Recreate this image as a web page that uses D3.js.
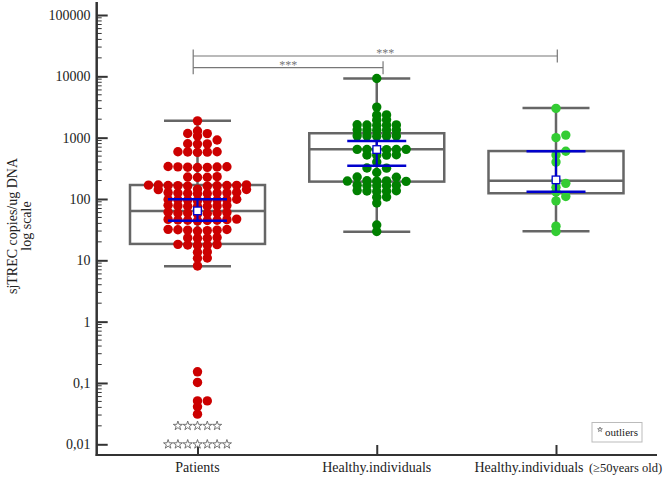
<!DOCTYPE html>
<html>
<head>
<meta charset="utf-8">
<script src="https://cdn.jsdelivr.net/npm/d3@7"></script>
<style>
  html, body { margin: 0; padding: 0; background: #fff; }
  svg { display: block; font-family: "Liberation Serif", "DejaVu Serif", serif; }
</style>
</head>
<body>
<svg id="chart" width="667" height="479"></svg>
<script>
// ---------------- DATA ----------------
const categories = ["Patients", "Healthy", "Healthy50"];
const categoryLabels = ["Patients", "Healthy.individuals", "Healthy.individuals"];
const categoryNote = "(≥50years old)";

const patientValues = [1880, 1285, 1170, 1165, 1065, 915, 790, 785, 795, 585, 580, 590, 575, 588,
  332, 335, 330, 328, 338, 334, 326, 228, 226, 231, 225,
  166, 164, 168, 165, 167, 163, 169, 166, 162, 170, 143, 142, 145,
  125, 124, 127, 123, 126, 125, 128, 122, 96, 97, 95, 98, 96, 94, 99, 97,
  77, 76, 78, 77, 75, 79, 76, 59, 60, 58, 59, 61, 57, 59,
  45.5, 45, 46, 44.5, 46.5, 45, 44, 47, 31, 31.5, 30.5, 32, 30, 31, 31.8,
  23, 23.5, 22.8, 23.2, 17.8, 18, 17.6, 18.2, 17.5, 13.7, 13.5, 10.9, 10.8, 8.1,
  0.152, 0.102, 0.051, 0.051, 0.041, 0.031];
const healthyValues = [9200, 3150, 2350, 2330, 1950, 1930, 1610, 1600, 1620, 1590, 1615,
  1335, 1330, 1340, 1325, 1338, 1065, 1060, 1070, 1055, 1068,
  640, 645, 635, 642, 638, 644, 522, 518, 526, 520, 400, 320, 318, 270, 228, 226,
  196, 195, 198, 194, 197, 166, 165, 167, 164, 168, 135, 134, 136, 133, 137, 108, 107, 86, 37.7, 29.5];
const healthy50Values = [3000, 1100, 1000, 600, 520, 400, 200, 180, 155, 130, 110, 93, 36, 29.5];

const outlierLevels = [0.02, 0.01];
const outlierCounts = [5, 7];

const boxQ1 = [18.5, 192, 124];
const boxMedian = [63.7, 650, 199];
const boxQ3 = [169, 1180, 605];
const whiskerLow = [8.0, 29.3, 29.9];
const whiskerHigh = [1880, 9200, 3050];
const ciLow = [44, 349, 131];
const ciHigh = [99, 883, 600];
const centerMark = [64, 640, 205];

const yTickValues = [100000, 10000, 1000, 100, 10, 1, 0.1, 0.01];
const yTickLabels = ["100000", "10000", "1000", "100", "10", "1", "0,1", "0,01"];

const sigPairs = [["Patients", "Healthy50"], ["Patients", "Healthy"]];
const sigLabels = ["***", "***"];

const dotColors = ["#cc0000", "#008000", "#33cc33"];

// ---------------- SCALES ----------------
const svg = d3.select("#chart");
const y = d3.scaleLog().domain([0.01, 100000]).range([444.3, 15]);
const x = d3.scalePoint().domain(categories).range([197.5, 556]);

const axisColor = "#333";
const boxColor = "#666";
const blue = "#0000cc";

// ---------------- AXES ----------------
const yAxisX = 96.7;
const xAxisY = 455;

svg.append("line").attr("x1", yAxisX).attr("x2", yAxisX).attr("y1", 2).attr("y2", xAxisY + 1)
  .attr("stroke", axisColor).attr("stroke-width", 2.5);

const yAxis = d3.axisRight(y).tickValues(yTickValues).tickSize(11).tickFormat("");
const gY = svg.append("g").attr("transform", `translate(${yAxisX},0)`).call(yAxis);
gY.select(".domain").remove();
gY.selectAll(".tick line").attr("stroke", axisColor).attr("stroke-width", 2);

const minor = [];
for (let e = -2; e < 5; e++) for (let m = 2; m <= 9; m++) minor.push(m * Math.pow(10, e));
svg.append("g").selectAll("line").data(minor).join("line")
  .attr("x1", yAxisX).attr("x2", yAxisX + 5)
  .attr("y1", d => y(d)).attr("y2", d => y(d))
  .attr("stroke", axisColor).attr("stroke-width", 1);

svg.append("g").selectAll("text").data(yTickValues).join("text")
  .attr("x", 90.5).attr("y", d => y(d)).attr("dy", "0.35em")
  .attr("text-anchor", "end").attr("font-size", 14).attr("fill", "#222")
  .text((d, i) => yTickLabels[i]);

const yl = svg.append("text").attr("transform", "translate(12.5,226) rotate(-90)")
  .attr("text-anchor", "middle").attr("font-size", 14).attr("fill", "#222");
yl.append("tspan").attr("x", 0).attr("dy", "0.35em").text("sjTREC copies/ug DNA");
yl.append("tspan").attr("x", 0).attr("dy", "1.0em").text("log scale");

svg.append("line").attr("x1", yAxisX - 1).attr("x2", 657).attr("y1", xAxisY).attr("y2", xAxisY)
  .attr("stroke", axisColor).attr("stroke-width", 2.2);
const xAxis = d3.axisTop(x).tickSize(10).tickFormat("");
const gX = svg.append("g").attr("transform", `translate(0,${xAxisY})`).call(xAxis);
gX.select(".domain").remove();
gX.selectAll(".tick line").attr("stroke", axisColor).attr("stroke-width", 2);

// x labels (third label sits left of its tick to leave room for the note)
const labelShift = [0, 0, -27];
svg.append("g").selectAll("text").data(categories).join("text")
  .attr("x", (d, i) => x(d) + labelShift[i]).attr("y", 472)
  .attr("text-anchor", "middle").attr("font-size", 14).attr("fill", "#222")
  .text((d, i) => categoryLabels[i]);
svg.append("text").attr("x", 589).attr("y", 472)
  .attr("font-size", 12.5).attr("fill", "#222").text(categoryNote);

// ---------------- BOXES ----------------
const boxHalf = 67.5, capHalf = 33.5;
const gBox = svg.append("g");
categories.forEach((c, i) => {
  const cx = x(c);
  gBox.append("line").attr("x1", cx).attr("x2", cx).attr("y1", y(whiskerHigh[i])).attr("y2", y(whiskerLow[i]))
    .attr("stroke", boxColor).attr("stroke-width", 2.5);
  [whiskerHigh[i], whiskerLow[i]].forEach(v => {
    gBox.append("line").attr("x1", cx - capHalf).attr("x2", cx + capHalf).attr("y1", y(v)).attr("y2", y(v))
      .attr("stroke", boxColor).attr("stroke-width", 2.5);
  });
  gBox.append("rect").attr("x", cx - boxHalf).attr("width", 2 * boxHalf)
    .attr("y", y(boxQ3[i])).attr("height", y(boxQ1[i]) - y(boxQ3[i]))
    .attr("fill", "none").attr("stroke", boxColor).attr("stroke-width", 2.5);
  gBox.append("line").attr("x1", cx - boxHalf).attr("x2", cx + boxHalf).attr("y1", y(boxMedian[i])).attr("y2", y(boxMedian[i]))
    .attr("stroke", boxColor).attr("stroke-width", 2.5);
});

// ---------------- SWARM ----------------
const dotR = 4.7, spacing = 9.8, dyMin = 4.6;
function swarm(values, cx) {
  const pts = values.map(v => ({ v, y: y(v) })).sort((a, b) => b.y - a.y);
  const placed = [];
  pts.forEach(p => {
    const near = placed.filter(q => Math.abs(q.y - p.y) < dyMin);
    const cands = [0];
    near.forEach(q => { cands.push(q.dx + spacing, q.dx - spacing); });
    let best = null;
    cands.forEach(c => {
      const ok = near.every(q => Math.abs(q.dx - c) >= spacing - 1e-6);
      if (ok && (best === null || Math.abs(c) < Math.abs(best) - 1e-6 ||
        (Math.abs(Math.abs(c) - Math.abs(best)) < 1e-6 && c > best && near.length % 2 === 1))) best = c;
    });
    p.dx = best;
    placed.push(p);
  });
  return placed.map(p => ({ v: p.v, x: cx + p.dx, y: p.y }));
}
const groups = [patientValues, healthyValues, healthy50Values];
groups.forEach((vals, i) => {
  const pts = swarm(vals, x(categories[i]));
  svg.append("g").selectAll("circle").data(pts).join("circle")
    .attr("cx", d => d.x).attr("cy", d => d.y).attr("r", dotR)
    .attr("fill", dotColors[i]);
});

const star = d3.symbol().type(d3.symbolStar).size(26);
const gStar = svg.append("g");
outlierLevels.forEach((lv, k) => {
  const n = outlierCounts[k];
  for (let j = 0; j < n; j++) {
    const sx = x("Patients") + (j - (n - 1) / 2) * spacing;
    gStar.append("path").attr("d", star()).attr("transform", `translate(${sx},${y(lv)})`)
      .attr("fill", "#fff").attr("stroke", "#666").attr("stroke-width", 0.9);
  }
});

// ---------------- CI + center marks ----------------
const ciHalf = 29.5;
const gCI = svg.append("g");
categories.forEach((c, i) => {
  const cx = x(c);
  gCI.append("line").attr("x1", cx).attr("x2", cx).attr("y1", y(ciHigh[i])).attr("y2", y(ciLow[i]))
    .attr("stroke", blue).attr("stroke-width", 2.2);
  [ciHigh[i], ciLow[i]].forEach(v => {
    gCI.append("line").attr("x1", cx - ciHalf).attr("x2", cx + ciHalf).attr("y1", y(v)).attr("y2", y(v))
      .attr("stroke", blue).attr("stroke-width", 2.5);
  });
  gCI.append("rect").attr("x", cx - 3.8).attr("y", y(centerMark[i]) - 3.8).attr("width", 7.6).attr("height", 7.6)
    .attr("fill", "#fff").attr("stroke", blue).attr("stroke-width", 1.3);
});

// ---------------- significance brackets ----------------
const sigColor = "#777";
const bracketY = [56, 67.7];
const gSig = svg.append("g");
sigPairs.forEach((pr, k) => {
  const x1 = x(pr[0]) - 4.3, x2 = x(pr[1]) + (k === 0 ? 1.3 : 6.3);
  const by = bracketY[k];
  gSig.append("line").attr("x1", x1).attr("x2", x2).attr("y1", by).attr("y2", by)
    .attr("stroke", sigColor).attr("stroke-width", 1.2);
  gSig.append("line").attr("x1", x2).attr("x2", x2).attr("y1", by - 6.5).attr("y2", by + 6.5)
    .attr("stroke", sigColor).attr("stroke-width", 1.2);
  gSig.append("text").attr("x", (x1 + x2) / 2 + (k === 0 ? 10 : 0)).attr("y", by + 0.8)
    .attr("text-anchor", "middle").attr("font-size", 12).attr("fill", sigColor).text(sigLabels[k]);
});
gSig.append("line").attr("x1", x("Patients") - 4.3).attr("x2", x("Patients") - 4.3)
  .attr("y1", bracketY[0] - 6.5).attr("y2", bracketY[1] + 6.5)
  .attr("stroke", sigColor).attr("stroke-width", 1.2);

// ---------------- legend ----------------
const lg = svg.append("g");
lg.append("rect").attr("x", 592).attr("y", 422.5).attr("width", 50).attr("height", 19.5)
  .attr("fill", "#fff").attr("stroke", "#bbb").attr("stroke-width", 1);
lg.append("path").attr("d", d3.symbol().type(d3.symbolStar).size(7)()).attr("transform", "translate(600,429.5)")
  .attr("fill", "#fff").attr("stroke", "#444").attr("stroke-width", 0.6);
lg.append("text").attr("x", 605).attr("y", 436).attr("font-size", 11).attr("fill", "#222").text("outliers");
</script>
</body>
</html>
